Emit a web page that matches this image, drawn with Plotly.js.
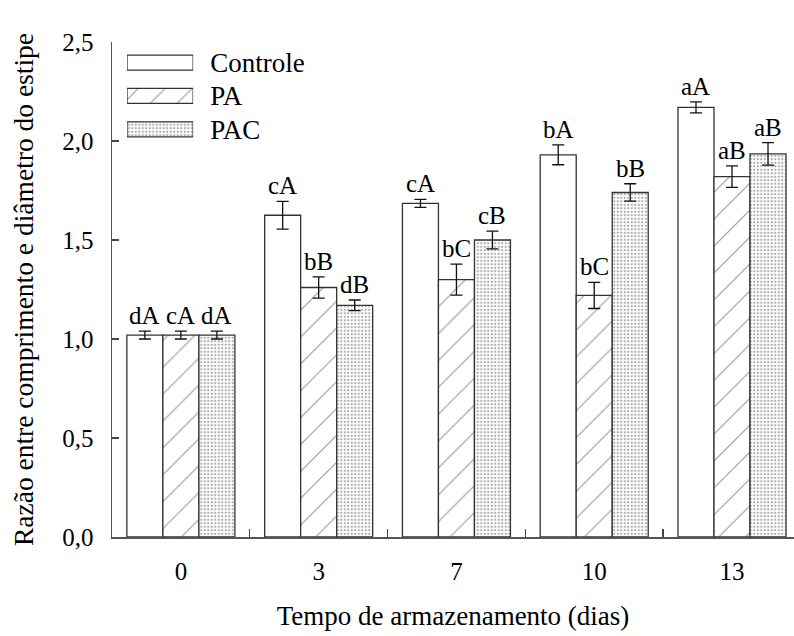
<!DOCTYPE html>
<html>
<head>
<meta charset="utf-8">
<script src="https://cdn.plot.ly/plotly-3.0.1.min.js"></script>
<style>html,body{margin:0;padding:0;background:#fff;}#chart{width:794px;height:636px;}</style>
</head>
<body>
<div id="chart"></div>
<script>
// ---- data ----
var categories = ['0', '3', '7', '10', '13'];
var seriesNames = ['Controle', 'PA', 'PAC'];
var controle = [1.02, 1.625, 1.685, 1.93, 2.17];
var pa = [1.02, 1.26, 1.30, 1.22, 1.82];
var pac = [1.02, 1.17, 1.50, 1.74, 1.935];
var controleErr = [0.02, 0.07, 0.02, 0.05, 0.028];
var paErr = [0.02, 0.054, 0.078, 0.066, 0.054];
var pacErr = [0.02, 0.027, 0.045, 0.044, 0.057];
var controleLbl = ['dA', 'cA', 'cA', 'bA', 'aA'];
var paLbl = ['cA', 'bB', 'bC', 'bC', 'aB'];
var pacLbl = ['dA', 'dB', 'cB', 'bB', 'aB'];
var yTickVals = [0, 0.5, 1.0, 1.5, 2.0, 2.5];
var legendPatch = [1, 1, 1];

// ---- styles ----
var FONT = "'Liberation Serif', 'Times New Roman', 'DejaVu Serif', serif";
var lineCol = '#333';
var bargap = 0.216;
var patterns = [
  {shape: '', fillmode: 'overlay'},
  {shape: '/', size: 19, solidity: 0.06, fgcolor: '#333', bgcolor: 'white', fillmode: 'overlay'},
  {shape: '.', size: 3.5, solidity: 0.35, fgcolor: '#555', bgcolor: 'white', fillmode: 'overlay'}
];
var values = [controle, pa, pac];
var errs = [controleErr, paErr, pacErr];
var labels = [controleLbl, paLbl, pacLbl];

var traces = [];
for (var s = 0; s < 3; s++) {
  traces.push({
    type: 'bar', name: seriesNames[s], x: categories, y: values[s],
    marker: {color: 'white', line: {color: lineCol, width: 1.3}, pattern: patterns[s]},
    error_y: {type: 'data', array: errs[s], visible: true, color: '#111', thickness: 1.3, width: 6},
    showlegend: false, xaxis: 'x', yaxis: 'y'
  });
}
// legend drawn as bars on an overlay axis
for (var s = 0; s < 3; s++) {
  traces.push({
    type: 'bar', orientation: 'h', x: [legendPatch[s]], y: [seriesNames[s]], width: 0.45,
    marker: {color: 'white', line: {color: lineCol, width: 1.3}, pattern: patterns[s]},
    showlegend: false, xaxis: 'x2', yaxis: 'y2', hoverinfo: 'skip'
  });
}

var annotations = [];
var w = (1 - bargap) / 3;
for (var s = 0; s < 3; s++) {
  for (var i = 0; i < categories.length; i++) {
    annotations.push({
      x: i + (s - 1) * w, y: values[s][i] + errs[s][i], xref: 'x', yref: 'y',
      text: labels[s][i], showarrow: false, yanchor: 'bottom', xanchor: 'center',
      yshift: 0, font: {family: FONT, size: 25, color: '#000'}
    });
  }
}

var layout = {
  width: 794, height: 636,
  margin: {l: 112, r: 0, t: 42, b: 99},
  paper_bgcolor: 'white', plot_bgcolor: 'white',
  separators: ',.',
  barmode: 'group', bargap: bargap, bargroupgap: 0,
  font: {family: FONT, color: '#000'},
  showlegend: false,
  xaxis: {
    type: 'category', range: [-0.5, 4.45], tickson: 'boundaries',
    ticks: 'inside', ticklen: 8, tickcolor: '#444', tickwidth: 1.3,
    showline: true, linecolor: '#555', linewidth: 1.5, showgrid: false, zeroline: false,
    tickfont: {family: FONT, size: 25, color: '#000'}, ticklabelstandoff: 11,
    title: {text: 'Tempo de armazenamento (dias)', font: {family: FONT, size: 27, color: '#000'}, standoff: 22},
    fixedrange: true, automargin: false
  },
  yaxis: {
    range: [0, 2.5], tickvals: yTickVals, tickformat: '.1f',
    ticks: 'inside', ticklen: 7, tickcolor: '#444', tickwidth: 1.3,
    showline: true, linecolor: '#555', linewidth: 1.5, showgrid: false, zeroline: false,
    tickfont: {family: FONT, size: 25, color: '#000'}, ticklabelstandoff: 12,
    title: {text: 'Razão entre comprimento e diâmetro do estipe', font: {family: FONT, size: 27.5, color: '#000'}, standoff: 20},
    fixedrange: true, automargin: false
  },
  xaxis2: {
    domain: [0.022, 0.119], range: [0, 1], anchor: 'y2', visible: false, fixedrange: true
  },
  yaxis2: {
    domain: [0.79, 0.992], anchor: 'x2', side: 'right', autorange: 'reversed',
    showline: false, showgrid: false, zeroline: false, ticks: '',
    tickfont: {family: FONT, size: 27, color: '#000'}, ticklabelstandoff: 16, fixedrange: true
  },
  annotations: annotations
};

Plotly.newPlot('chart', traces, layout, {displayModeBar: false, staticPlot: true});
</script>
</body>
</html>
